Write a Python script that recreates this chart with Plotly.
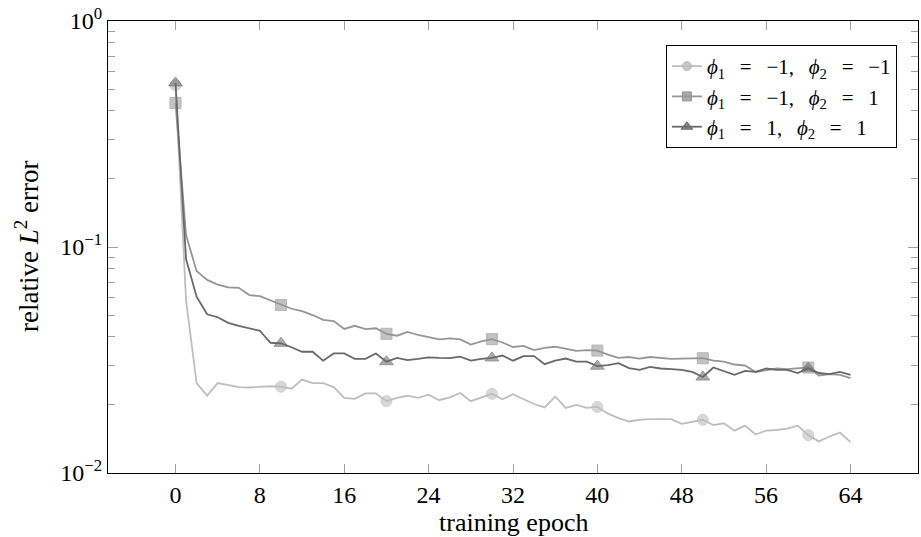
import plotly.graph_objects as go

epochs = list(range(65))

err_m1_m1 = [0.52, 0.058, 0.025, 0.022, 0.025, 0.0245, 0.024, 0.0239, 0.0241, 0.0242,
             0.0241, 0.0236, 0.0259, 0.025, 0.025, 0.024, 0.0215, 0.0213, 0.0225, 0.0225,
             0.0208, 0.0215, 0.022, 0.0215, 0.0222, 0.021, 0.0216, 0.0226, 0.0208, 0.0215,
             0.0224, 0.0212, 0.0223, 0.0212, 0.0202, 0.0195, 0.0218, 0.0194, 0.02, 0.0194,
             0.0196, 0.0183, 0.0175, 0.0169, 0.0172, 0.0173, 0.0173, 0.0173, 0.0165, 0.0169,
             0.0172, 0.0163, 0.0166, 0.0154, 0.0162, 0.0148, 0.0154, 0.0155, 0.0157, 0.0162,
             0.0147, 0.0138, 0.0145, 0.0151, 0.0137]

err_m1_p1 = [0.434, 0.113, 0.0783, 0.0715, 0.0682, 0.0663, 0.066, 0.0613, 0.0606, 0.058,
             0.0554, 0.0533, 0.052, 0.05, 0.0476, 0.047, 0.0434, 0.0448, 0.0433, 0.0437,
             0.0413, 0.0405, 0.0421, 0.0408, 0.0399, 0.039, 0.0394, 0.039, 0.037, 0.0382,
             0.0391, 0.0378, 0.0361, 0.0365, 0.035, 0.0358, 0.0362, 0.0354, 0.0347, 0.035,
             0.0348, 0.0334, 0.0323, 0.0326, 0.0321, 0.0326, 0.0322, 0.032, 0.0321, 0.0321,
             0.0322, 0.0314, 0.0311, 0.0302, 0.0299, 0.028, 0.0286, 0.029, 0.0288, 0.029,
             0.0293, 0.027, 0.0274, 0.0272, 0.0263]

err_p1_p1 = [0.532, 0.0885, 0.0603, 0.0504, 0.0489, 0.0462, 0.0448, 0.0437, 0.0426, 0.0377,
             0.0375, 0.036, 0.0344, 0.0344, 0.0314, 0.0338, 0.0338, 0.032, 0.032, 0.0338,
             0.0311, 0.0323, 0.0316, 0.032, 0.0325, 0.0323, 0.0322, 0.0327, 0.0314, 0.032,
             0.0323, 0.0331, 0.0314, 0.0329, 0.0329, 0.0303, 0.0314, 0.0321, 0.0311, 0.0311,
             0.0297, 0.03, 0.0306, 0.0291, 0.0286, 0.0295, 0.029, 0.0288, 0.0286, 0.028,
             0.0266, 0.0293, 0.0282, 0.0272, 0.0283, 0.028, 0.029, 0.0286, 0.0286, 0.0277,
             0.0291, 0.0277, 0.0274, 0.028, 0.0272]

EQ = "\u2002\u2009=\u2002\u2009"
CM = ",\u2002\u2009"
series_names = ["<i>ϕ</i><sub>1</sub>" + EQ + "−1" + CM + "<i>ϕ</i><sub>2</sub>" + EQ + "−1",
                "<i>ϕ</i><sub>1</sub>" + EQ + "−1" + CM + "<i>ϕ</i><sub>2</sub>" + EQ + "1",
                "<i>ϕ</i><sub>1</sub>" + EQ + "1" + CM + "<i>ϕ</i><sub>2</sub>" + EQ + "1"]

x_title = "training epoch"
y_title = "relative <i>L</i><sup>2</sup> error"

x_tickvals = [0, 8, 16, 24, 32, 40, 48, 56, 64]
y_tickvals = [0.01, 0.1, 1]
y_ticktext = ["10<sup>−2</sup>", "10<sup>−1</sup>", "10<sup>0</sup>"]
y_minorvals = [0.02, 0.03, 0.04, 0.05, 0.06, 0.07, 0.08, 0.09,
               0.2, 0.3, 0.4, 0.5, 0.6, 0.7, 0.8, 0.9]

FONT = "Liberation Serif"
styles = [
    dict(color="rgb(190,190,190)", fill="rgba(190,190,190,0.85)", symbol="circle", size=11, lsize=9),
    dict(color="rgb(150,150,150)", fill="rgba(150,150,150,0.8)", symbol="square", size=11, lsize=9),
    dict(color="rgb(105,105,105)", fill="rgba(105,105,105,0.8)", symbol="triangle-up", size=12, lsize=10),
]

fig = go.Figure()
for i, (ys, name, st) in enumerate(zip([err_m1_m1, err_m1_p1, err_p1_p1], series_names, styles)):
    sizes = [st["size"] if e % 10 == 0 else 0 for e in epochs]
    fig.add_trace(go.Scatter(
        x=epochs, y=ys, name=name, mode="lines+markers", showlegend=False,
        line=dict(color=st["color"], width=1.8),
        marker=dict(symbol=st["symbol"], size=sizes, color=st["fill"],
                    line=dict(color=st["color"], width=1)),
    ))
    # legend entry (no data drawn)
    fig.add_trace(go.Scatter(
        x=[None], y=[None], name=name, mode="lines+markers",
        line=dict(color=st["color"], width=1.8),
        marker=dict(symbol=st["symbol"], size=st["lsize"], color=st["fill"],
                    line=dict(color=st["color"], width=1)),
    ))

axis_common = dict(showline=True, linecolor="black", linewidth=1.2, mirror="allticks",
                   ticks="inside", tickcolor="rgb(160,160,160)", tickwidth=1.2,
                   showgrid=False, zeroline=False, automargin=False,
                   tickfont=dict(family=FONT, size=24, color="black"))

fig.update_layout(
    width=921, height=537,
    margin=dict(l=108, r=3, t=21, b=64),
    paper_bgcolor="white", plot_bgcolor="white",
    font=dict(family=FONT, size=22, color="black"),
    xaxis=dict(range=[-6.4, 70.4], tickmode="array", tickvals=x_tickvals, ticklen=9,
               **axis_common),
    yaxis=dict(type="log", range=[-2, 0], tickmode="array", tickvals=y_tickvals,
               ticktext=y_ticktext, ticklen=10,
               minor=dict(tickmode="array", tickvals=y_minorvals, ticks="inside", ticklen=7,
                          tickcolor="rgb(160,160,160)", tickwidth=1.2, showgrid=False),
               **axis_common),
    legend=dict(x=0.974, y=0.947, xanchor="right", yanchor="top",
                bgcolor="white", bordercolor="black", borderwidth=1,
                tracegroupgap=0, font=dict(family=FONT, size=21)),
    annotations=[
        dict(text=x_title, xref="paper", yref="paper", x=0.5, y=-0.11,
             xanchor="center", yanchor="middle", showarrow=False,
             font=dict(family=FONT, size=26, color="black")),
        dict(text=y_title, xref="paper", yref="paper", x=-0.1, y=0.5, textangle=-90,
             xanchor="center", yanchor="middle", showarrow=False,
             font=dict(family=FONT, size=27, color="black")),
    ],
)

fig.write_html("out.html")
